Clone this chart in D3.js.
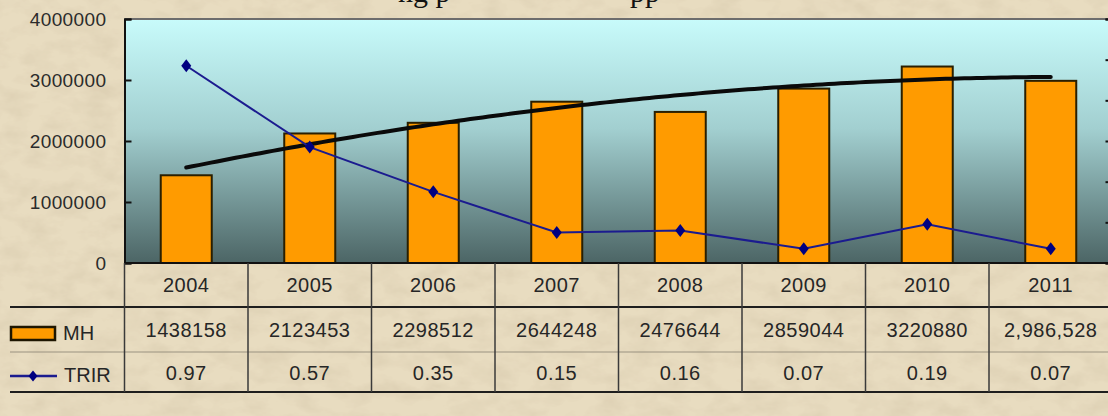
<!DOCTYPE html>
<html><head><meta charset="utf-8">
<script src="https://cdn.jsdelivr.net/npm/d3@7"></script>
<style>html,body{margin:0;padding:0;background:#e8dbbf;}svg{display:block;}</style>
</head><body>
<svg id="chart" width="1108" height="416"></svg>
<script>
const years = ["2004","2005","2006","2007","2008","2009","2010","2011"];
const mhValues = [1438158, 2123453, 2298512, 2644248, 2476644, 2859044, 3220880, 2986528];
const mhLabels = ["1438158","2123453","2298512","2644248","2476644","2859044","3220880","2,986,528"];
const trirValues = [0.97, 0.57, 0.35, 0.15, 0.16, 0.07, 0.19, 0.07];
const trirLabels = ["0.97","0.57","0.35","0.15","0.16","0.07","0.19","0.07"];
const leftTicks = [0, 1000000, 2000000, 3000000, 4000000];
const rightTicks = [0, 0.2, 0.4, 0.6, 0.8, 1.0, 1.2];

const svg = d3.select("#chart");
const W = 1108, H = 416;
const L = 124.5, R = 1112.5, T = 19, B = 263;
const rowHead = 307, rowSep = 352, rowBot = 392;

// background parchment
const defs = svg.append("defs");
const f = defs.append("filter").attr("id","paper").attr("x",0).attr("y",0).attr("width","100%").attr("height","100%");
f.append("feTurbulence").attr("type","fractalNoise").attr("baseFrequency","0.035 0.06").attr("numOctaves",4).attr("seed",3).attr("result","n");
f.append("feColorMatrix").attr("in","n").attr("type","matrix")
 .attr("values","0 0 0 0 0.55  0 0 0 0 0.45  0 0 0 0 0.3  0 0 0 -0.9 0.55").attr("result","c");
f.append("feComposite").attr("in","c").attr("in2","SourceGraphic").attr("operator","over");
svg.append("rect").attr("width",W).attr("height",H).attr("fill","#e8dcc0");
svg.append("rect").attr("width",W).attr("height",H).attr("fill","#e8dcc0").attr("filter","url(#paper)").attr("opacity",0.6);

const grad = defs.append("linearGradient").attr("id","bg").attr("x1",0).attr("y1",0).attr("x2",0).attr("y2",1);
grad.append("stop").attr("offset","0%").attr("stop-color","#c8fbfb");
grad.append("stop").attr("offset","45%").attr("stop-color","#a2cfd0");
grad.append("stop").attr("offset","100%").attr("stop-color","#4c6565");

// title fragment (cut off at the top in the reference)
const title = svg.append("g").attr("font-family","'Liberation Serif','Times New Roman',serif").attr("font-size",30).attr("fill","#111");
title.append("text").attr("x",398).attr("y",2).text("ng p");
title.append("text").attr("x",630).attr("y",2).text("pp");

const x = d3.scaleBand().domain(years).range([L, R]).paddingInner(0.587).paddingOuter(0.2935);
const xc = d3.scaleBand().domain(years).range([L, R]);
const y = d3.scaleLinear().domain([0, 4000000]).range([B, T]);
const y2 = d3.scaleLinear().domain([0, 1.2]).range([B, T]);

// plot area
svg.append("rect").attr("x",L).attr("y",T).attr("width",R-L).attr("height",B-T).attr("fill","url(#bg)");
svg.append("line").attr("x1",L).attr("x2",R).attr("y1",T).attr("y2",T).attr("stroke","#6d6d6d").attr("stroke-width",2);

// bars
svg.append("g").selectAll("rect").data(years).join("rect")
  .attr("x", d => x(d)).attr("width", x.bandwidth())
  .attr("y", (d,i) => y(mhValues[i])).attr("height", (d,i) => B - y(mhValues[i]))
  .attr("fill","#ff9b00").attr("stroke","#2a1f00").attr("stroke-width",2);

// polynomial (order 2) trendline from MH values
const n = mhValues.length;
const xs = d3.range(1, n+1);
function fitQuad(xv, yv){
  let S = [0,0,0,0,0], Sy=[0,0,0];
  xv.forEach((t,i)=>{ for(let k=0;k<5;k++) S[k]+=Math.pow(t,k); for(let k=0;k<3;k++) Sy[k]+=Math.pow(t,k)*yv[i]; });
  const A = [[S[0],S[1],S[2],Sy[0]],[S[1],S[2],S[3],Sy[1]],[S[2],S[3],S[4],Sy[2]]];
  for(let i=0;i<3;i++){ for(let j=i+1;j<3;j++){ const r=A[j][i]/A[i][i]; for(let k=i;k<4;k++) A[j][k]-=r*A[i][k]; } }
  const c=[0,0,0];
  for(let i=2;i>=0;i--){ let s=A[i][3]; for(let k=i+1;k<3;k++) s-=A[i][k]*c[k]; c[i]=s/A[i][i]; }
  return t => c[0]+c[1]*t+c[2]*t*t;
}
const trend = fitQuad(xs, mhValues);
const tx = d3.scaleLinear().domain([1, n]).range([xc(years[0])+xc.bandwidth()/2, xc(years[n-1])+xc.bandwidth()/2]);
const tpts = d3.range(1, n+0.001, 0.05).map(t => [tx(t), y(trend(t))]);
svg.append("path").attr("d", d3.line()(tpts)).attr("fill","none").attr("stroke","#0a0a0a").attr("stroke-width",4).attr("stroke-linecap","round");

// TRIR line
const cx = (d) => xc(d) + xc.bandwidth()/2;
svg.append("path").datum(years).attr("d", d3.line().x(d=>cx(d)).y((d,i)=>y2(trirValues[i])))
  .attr("fill","none").attr("stroke","#1b1b8f").attr("stroke-width",2);
svg.append("g").selectAll("path").data(years).join("path")
  .attr("transform",(d,i)=>`translate(${cx(d)},${y2(trirValues[i])})`)
  .attr("d","M0,-6.5L5,0L0,6.5L-5,0Z").attr("fill","#000080");

// axes
const axL = svg.append("g").attr("transform",`translate(${L},0)`)
  .call(d3.axisLeft(y).tickValues(leftTicks).tickSize(-7).tickPadding(18).tickFormat(d3.format("d")));
axL.select(".domain").attr("stroke","#111").attr("stroke-width",2);
axL.selectAll(".tick line").attr("stroke","#111").attr("stroke-width",2);
axL.selectAll("text").attr("font-family","'Liberation Sans',Arial,sans-serif").attr("font-size",19).attr("letter-spacing",0.4).attr("fill","#2b2b2b");

const axR = svg.append("g").attr("transform",`translate(${R},0)`)
  .call(d3.axisRight(y2).tickValues(rightTicks).tickSize(-7).tickFormat(""));
axR.select(".domain").attr("stroke","#111").attr("stroke-width",2);
axR.selectAll(".tick line").attr("stroke","#111").attr("stroke-width",2);

svg.append("line").attr("x1",L).attr("x2",R).attr("y1",B).attr("y2",B).attr("stroke","#111").attr("stroke-width",2);

// data table
const tbl = svg.append("g");
tbl.append("line").attr("x1",10).attr("x2",W).attr("y1",rowHead).attr("y2",rowHead).attr("stroke","#1e1e1e").attr("stroke-width",2);
tbl.append("line").attr("x1",10).attr("x2",W).attr("y1",rowSep).attr("y2",rowSep).attr("stroke","#9a9280").attr("stroke-width",1);
tbl.append("line").attr("x1",10).attr("x2",W).attr("y1",rowBot).attr("y2",rowBot).attr("stroke","#1e1e1e").attr("stroke-width",2);
tbl.selectAll("line.v").data(years.concat(["end"])).join("line").attr("class","v")
  .attr("x1",(d,i)=>L + i*xc.step()).attr("x2",(d,i)=>L + i*xc.step())
  .attr("y1",B).attr("y2",rowBot).attr("stroke","#3a3a3a").attr("stroke-width",1.5);

const tf = "'Liberation Sans',Arial,sans-serif";
function row(labels, yy){
  tbl.append("g").selectAll("text").data(years).join("text")
    .attr("x", d => cx(d)).attr("y", yy).attr("text-anchor","middle").attr("dominant-baseline","central")
    .attr("font-family",tf).attr("font-size",20).attr("letter-spacing",0.5).attr("fill","#262626")
    .text((d,i)=>labels[i]);
}
row(years, 285);
row(mhLabels, 330);
row(trirLabels, 373);

// legend keys
tbl.append("rect").attr("x",11).attr("y",327).attr("width",44).attr("height",13).attr("fill","#ff9b00").attr("stroke","#1e1600").attr("stroke-width",2.5);
tbl.append("text").attr("x",63).attr("y",333).attr("dominant-baseline","central").attr("font-family",tf).attr("font-size",20).attr("fill","#262626").text("MH");
tbl.append("line").attr("x1",10).attr("x2",57).attr("y1",376).attr("y2",376).attr("stroke","#1b1b8f").attr("stroke-width",2.5);
tbl.append("path").attr("transform","translate(33,376)").attr("d","M0,-5.5L4.5,0L0,5.5L-4.5,0Z").attr("fill","#000080");
tbl.append("text").attr("x",64).attr("y",375).attr("dominant-baseline","central").attr("font-family",tf).attr("font-size",20).attr("fill","#262626").text("TRIR");
</script>
</body></html>
